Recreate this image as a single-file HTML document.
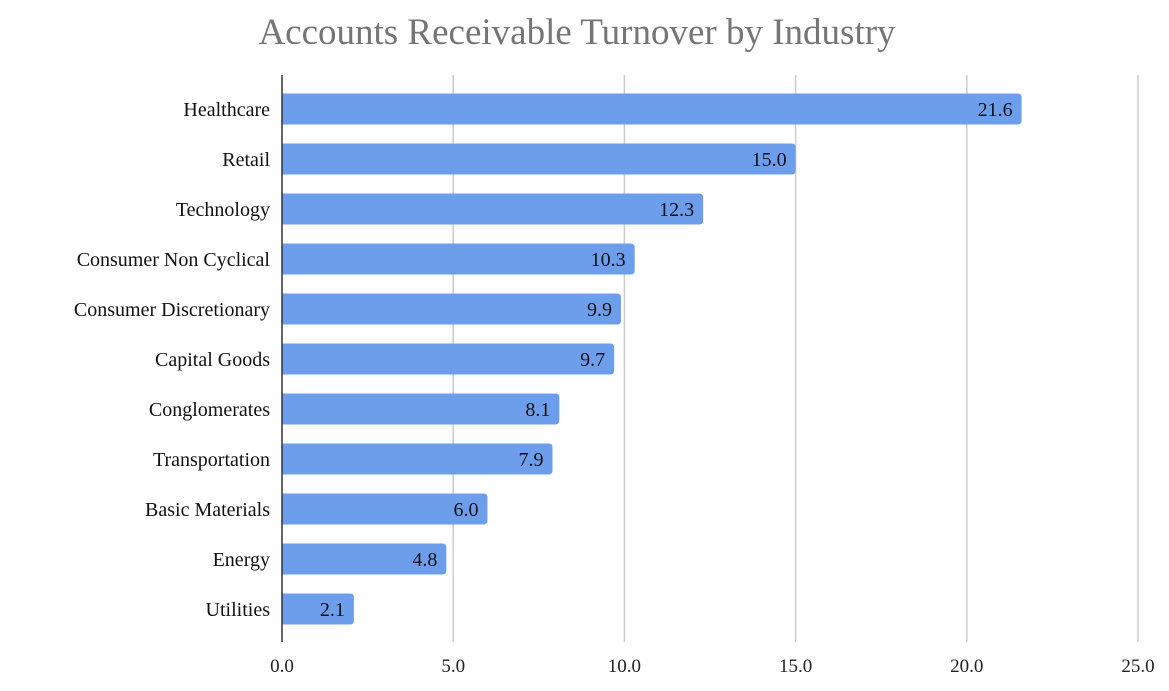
<!DOCTYPE html>
<html><head><meta charset="utf-8">
<style>
html,body{margin:0;padding:0;background:#fff;}
svg text{font-family:"Liberation Serif",serif;}
</style></head>
<body>
<svg width="1169" height="686" viewBox="0 0 1169 686" xmlns="http://www.w3.org/2000/svg">
<text x="577" y="44" text-anchor="middle" font-size="37" fill="#757575">Accounts Receivable Turnover by Industry</text>
<g id="grid"></g>
<g id="bars"></g>
<g id="labels"></g>
<line x1="282" y1="75" x2="282" y2="642" stroke="#333" stroke-width="1.5"/>
</svg>
<script>
const categories=["Healthcare","Retail","Technology","Consumer Non Cyclical","Consumer Discretionary","Capital Goods","Conglomerates","Transportation","Basic Materials","Energy","Utilities"];
const values=[21.6,15.0,12.3,10.3,9.9,9.7,8.1,7.9,6.0,4.8,2.1];
const ticks=[0,5,10,15,20,25];
const tickLabels=["0.0","5.0","10.0","15.0","20.0","25.0"];
const NS="http://www.w3.org/2000/svg";
const x0=282,pxPerUnit=(1138-282)/25;
function xs(v){return x0+v*pxPerUnit;}
function ys(i){return 109+i*50;}
const grid=document.getElementById('grid'),bars=document.getElementById('bars'),labels=document.getElementById('labels');
function mk(tag,attrs,parent){const e=document.createElementNS(NS,tag);for(const k in attrs)e.setAttribute(k,attrs[k]);parent.appendChild(e);return e;}
ticks.forEach((t,i)=>{
  if(t>0){const l=mk('line',{x1:xs(t),x2:xs(t),y1:75,y2:642,stroke:'#cccccc','stroke-width':1.5},grid);
  
  }
  const tx=mk('text',{x:xs(t),y:672,'text-anchor':'middle','font-size':19,fill:'#222'},labels);
  tx.textContent=tickLabels[i];
  
  
});
categories.forEach((c,i)=>{
  const y=ys(i),h=31,w=xs(values[i])-x0,r=4;
  const p=mk('path',{d:`M${x0},${y-h/2} H${x0+w-r} Q${x0+w},${y-h/2} ${x0+w},${y-h/2+r} V${y+h/2-r} Q${x0+w},${y+h/2} ${x0+w-r},${y+h/2} H${x0} Z`,fill:'#6d9eeb'},bars);
  
  
  const v=mk('text',{x:x0+w-9,y:y+7,'text-anchor':'end','font-size':20,fill:'#111'},labels);
  v.textContent=values[i].toFixed(1);
  
  
  const cl=mk('text',{x:270,y:y+7,'text-anchor':'end','font-size':20,fill:'#111'},labels);
  cl.textContent=c;
  
  
});
</script>
</body></html>
